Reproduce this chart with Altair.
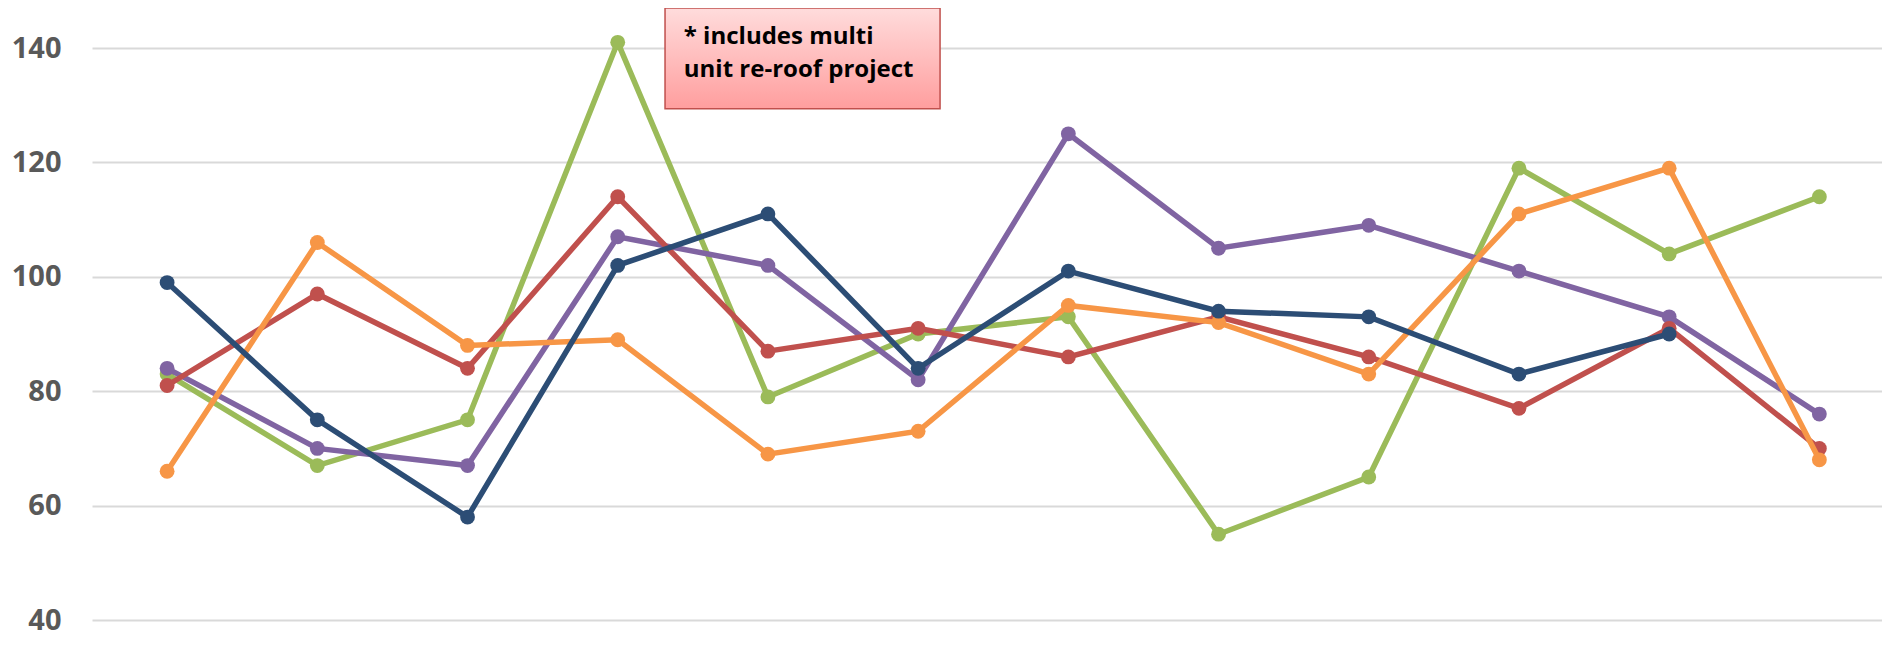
import altair as alt
import pandas as pd

# ---- data ----
periods = list(range(1, 13))
series_names = ["Series 1", "Series 2", "Series 3", "Series 4", "Series 5"]
navy = [99, 75, 58, 102, 111, 84, 101, 94, 93, 83, 90, None]
red = [81, 97, 84, 114, 87, 91, 86, 93, 86, 77, 91, 70]
green = [83, 67, 75, 141, 79, 90, 93, 55, 65, 119, 104, 114]
purple = [84, 70, 67, 107, 102, 82, 125, 105, 109, 101, 93, 76]
orange = [66, 106, 88, 89, 69, 73, 95, 92, 83, 111, 119, 68]
y_ticks = [40, 60, 80, 100, 120, 140]
note_lines = ["* includes multi", "unit re-roof project"]

colors = {
    "Series 1": "#2C4D75",
    "Series 2": "#C0504D",
    "Series 3": "#9BBB59",
    "Series 4": "#8064A2",
    "Series 5": "#F79646",
}
values = {
    "Series 1": navy,
    "Series 2": red,
    "Series 3": green,
    "Series 4": purple,
    "Series 5": orange,
}
draw_order = ["Series 3", "Series 4", "Series 2", "Series 5", "Series 1"]

rows = []
for name in series_names:
    for p, v in zip(periods, values[name]):
        if v is not None:
            rows.append({"series": name, "period": p, "value": v})
df = pd.DataFrame(rows)

x_scale = alt.Scale(domain=[0.5, 12.417], nice=False, zero=False)
y_scale = alt.Scale(domain=[40, 147], nice=False, zero=False)

y_axis = alt.Axis(
    values=y_ticks,
    grid=True,
    gridColor="#D9D9D9",
    gridWidth=2,
    domain=False,
    ticks=False,
    labelFont="Open Sans",
    labelFontWeight="bold",
    labelFontSize=29,
    labelColor="#595959",
    labelPadding=31,
    title=None,
)

base = alt.Chart(df)

layers = []
for name in draw_order:
    sub = base.transform_filter(alt.datum.series == name)
    layers.append(
        sub.mark_line(color=colors[name], strokeWidth=5.5).encode(
            x=alt.X("period:Q", scale=x_scale, axis=None),
            y=alt.Y("value:Q", scale=y_scale, axis=y_axis),
        )
    )
    layers.append(
        sub.mark_circle(color=colors[name], size=220, opacity=1).encode(
            x=alt.X("period:Q", scale=x_scale, axis=None),
            y=alt.Y("value:Q", scale=y_scale, axis=y_axis),
        )
    )

# annotation box
box_df = pd.DataFrame([{"x1": 4.315, "x2": 6.146, "y1": 129.4, "y2": 147}])
box = alt.Chart(box_df).mark_rect(
    fill=alt.Gradient(
        gradient="linear",
        stops=[
            alt.GradientStop(color="#FFDCDC", offset=0),
            alt.GradientStop(color="#FF9E9E", offset=1),
        ],
        x1=0, x2=0, y1=0, y2=1,
    ),
    stroke="#C0504D",
    strokeWidth=1.5,
).encode(
    x=alt.X("x1:Q", scale=x_scale, axis=None),
    x2="x2:Q",
    y=alt.Y("y1:Q", scale=y_scale, axis=y_axis),
    y2="y2:Q",
)

text_df = pd.DataFrame(
    [{"x": 4.44, "y": 141.9, "t": note_lines[0]}, {"x": 4.44, "y": 136.2, "t": note_lines[1]}]
)
text = alt.Chart(text_df).mark_text(
    align="left",
    baseline="middle",
    font="Open Sans",
    fontWeight="bold",
    fontSize=24,
    color="#000000",
).encode(
    x=alt.X("x:Q", scale=x_scale, axis=None),
    y=alt.Y("y:Q", scale=y_scale, axis=y_axis),
    text="t:N",
)

chart = (
    alt.layer(*layers, box, text)
    .properties(
        width=1790,
        height=612,
        background="white",
        autosize=alt.AutoSizeParams(type="none"),
        padding={"left": 84, "top": 0, "right": 0, "bottom": 19},
    )
    .configure_view(strokeWidth=0)
)

chart.save("out.html", embed_options={"renderer": "svg", "actions": False})
